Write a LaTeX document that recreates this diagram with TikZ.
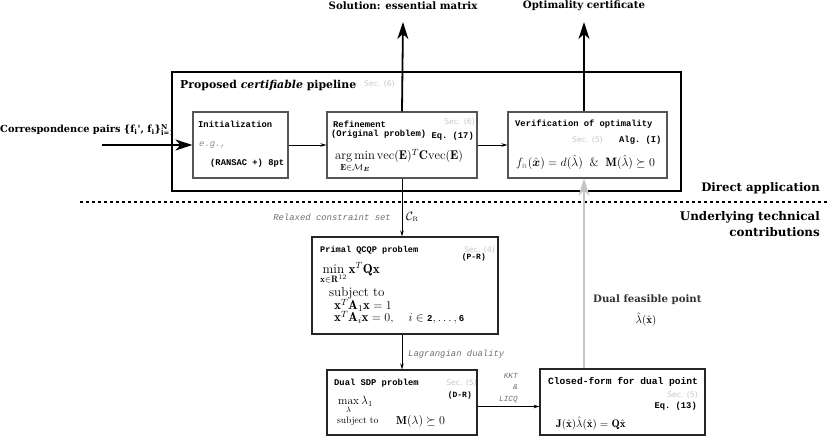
\documentclass[tikz,border=0pt]{standalone}
\usepackage{amsmath,amssymb}
\usepackage{fontspec}
\setmonofont{Liberation Mono}
\newfontfamily\hfont{DejaVu Serif}
\newfontfamily\secfont{DejaVu Sans}
\usetikzlibrary{arrows.meta,calc}
\definecolor{boxgray}{HTML}{555555}
\definecolor{seccol}{HTML}{C8C8C8}
\definecolor{lblgray}{HTML}{707070}
\definecolor{fbgray}{HTML}{C4C4C4}
\tikzset{
  box/.style={draw=boxgray, line width=1.2pt, fill=white, inner sep=0pt},
  outerbox/.style={draw=black, line width=1.1pt, inner sep=0pt},
  head/.style={font=\hfont\bfseries\fontsize{10.2}{12}\selectfont, inner sep=0pt},
  bighead/.style={font=\hfont\bfseries\fontsize{11.9}{16}\selectfont, inner sep=0pt},
  tt/.style={font=\ttfamily\bfseries\fontsize{8.8}{11}\selectfont, inner sep=0pt},
  ttit/.style={font=\ttfamily\itshape\fontsize{8.9}{11}\selectfont, text=lblgray, inner sep=0pt},
  sec/.style={font=\secfont\fontsize{7.7}{9}\selectfont, text=seccol, inner sep=0pt},
  mth/.style={font=\fontsize{11}{13}\selectfont, inner sep=0pt},
  bigarrow/.style={line width=1.8pt, -{Stealth[length=17pt,width=11pt,inset=5pt]}},
  thinarrow/.style={line width=0.6pt, -{Stealth[length=6pt,width=3.5pt]}},
  grayarrow/.style={draw=fbgray, line width=1.8pt, -{Stealth[length=17pt,width=11pt,inset=5pt]}},
}
\begin{document}
\begin{tikzpicture}[x=1pt,y=-1pt]
\useasboundingbox (0,0) rectangle (830,438);
% outer pipeline box
\node[outerbox, minimum width=509pt, minimum height=119pt] (pipe) at (426.5,131.5) {};
\node[bighead, anchor=west, font=\hfont\bfseries\fontsize{10.9}{13}\selectfont] (ptitle) at (180,85) {Proposed \textit{certifiable} pipeline};
\node[sec, anchor=west] (psec) at (364,84) {Sec. (6)};
% boxes
\node[box, minimum width=95pt, minimum height=66pt] (init) at (240.5,145) {};
\node[box, minimum width=150pt, minimum height=66pt] (ref) at (402,145) {};
\node[box, minimum width=159pt, minimum height=66pt] (verif) at (587.5,145) {};
\node[box, draw=black!85, minimum width=186pt, minimum height=97pt] (primal) at (405,285.5) {};
\node[box, draw=black!85, minimum width=150pt, minimum height=65pt] (dual) at (402,402.5) {};
\node[box, draw=black!85, minimum width=165pt, minimum height=66pt] (closed) at (622.5,402) {};
% coordinates for free ends
\coordinate (sol) at (403,22);
\coordinate (cert) at (584,22);
\coordinate (inp) at (102,145);
% top labels
\node[head] (soltxt) at (403,6) {Solution: essential matrix};
\node[head] (certtxt) at (584,6) {Optimality certificate};
% input
\node[head, anchor=west, font=\hfont\bfseries\fontsize{9.8}{12}\selectfont] (inptxt) at (0,130) {Correspondence pairs \{f$_{\text{i}}$', f$_{\text{i}}$\}$^{\text{N}}_{\text{i=1}}$};
% init text
\node[tt, anchor=west] (initt) at (198,124) {Initialization};
\node[ttit, text=black!45, anchor=west] (eg) at (199,145) {e.g.,};
\node[tt, anchor=west] (ransac) at (210,163) {(RANSAC +) 8pt};
% refinement text
\node[tt, anchor=west] (reft) at (333,124) {Refinement};
\node[sec, anchor=east] (refsec) at (475,122) {Sec. (6)};
\node[tt, anchor=west] (refo) at (331,134) {(Original problem)};
\node[tt, anchor=east] (refeq) at (474,136) {Eq. (17)};
\node[mth, anchor=west, font=\fontsize{12.6}{15}\selectfont] (refm) at (335,161) {$\displaystyle\mathop{\arg\min}_{\mathbf{E}\in\mathcal{M}_{\boldsymbol{E}}} \mathrm{vec}(\mathbf{E})^T\mathbf{C}\mathrm{vec}(\mathbf{E})$};
% verification text
\node[tt, anchor=west] (vert) at (515,124) {Verification of optimality};
\node[sec, anchor=west] (versec) at (572,140) {Sec. (5)};
\node[tt, anchor=west] (veralg) at (619,140) {Alg. (I)};
\node[mth, anchor=west, font=\fontsize{12.2}{14}\selectfont] (verm) at (516,162) {$f_{\textcolor{lblgray}{\scriptscriptstyle\mathrm{R}}}(\hat{\boldsymbol{x}}) = d(\hat{\lambda}) \;\;\&\;\; \mathbf{M}(\hat{\lambda}) \succeq 0$};
% below-line labels
\node[bighead, anchor=east, font=\hfont\bfseries\fontsize{11.7}{16}\selectfont] (direct) at (820,188) {Direct application};
\node[bighead, anchor=east, align=right] (under) at (820,224) {Underlying technical\\contributions};
\coordinate (dl) at (80,202);
\coordinate (dr) at (830,202);
\draw[line width=1.4pt, dash pattern=on 3pt off 3pt] (dl) -- (dr);
% primal text
\node[tt, anchor=west, font=\ttfamily\bfseries\fontsize{8.6}{11}\selectfont] (prt) at (320,250) {Primal QCQP problem};
\node[sec, anchor=east] (prsec) at (495,250) {Sec. (4)};
\node[tt, anchor=east, font=\ttfamily\bfseries\fontsize{8}{11}\selectfont] (prpr) at (486,257) {(P-R)};
\node[mth, anchor=west, font=\fontsize{13.2}{15}\selectfont] (prm) at (320,273) {$\displaystyle\min_{\mathbf{x}\in\mathbf{R}^{12}} \mathbf{x}^T\mathbf{Q}\mathbf{x}$};
\node[mth, anchor=west, font=\fontsize{13}{15}\selectfont] (prs) at (329,293) {subject to};
\node[mth, anchor=west, font=\fontsize{13}{15}\selectfont] (pr1) at (334,305.5) {$\mathbf{x}^T\mathbf{A}_1\mathbf{x} = 1$};
\node[mth, anchor=west, font=\fontsize{13}{15}\selectfont] (pr2) at (334,317.5) {$\mathbf{x}^T\mathbf{A}_i\mathbf{x} = 0, \quad i \in \text{\ttfamily\bfseries\fontsize{9}{11}\selectfont 2}, \ldots, \text{\ttfamily\bfseries\fontsize{9}{11}\selectfont 6}$};
% dual text
\node[tt, anchor=west] (dut) at (334,383) {Dual SDP problem};
\node[sec, anchor=east] (dusec) at (477,383) {Sec. (5)};
\node[tt, anchor=east, font=\ttfamily\bfseries\fontsize{8}{11}\selectfont] (dudr) at (472,395) {(D-R)};
\node[mth, anchor=west, font=\fontsize{11.5}{13}\selectfont] (dum) at (338,405) {$\displaystyle\max_{\lambda}\lambda_1$};
\node[mth, anchor=west, font=\fontsize{9.5}{12}\selectfont] (dus) at (337,421) {subject to};
\node[mth, anchor=west, font=\fontsize{11.5}{13}\selectfont] (dusm) at (396,421) {$\mathbf{M}(\lambda)\succeq 0$};
% closed text
\node[tt, anchor=west, font=\ttfamily\bfseries\fontsize{9.6}{11}\selectfont] (clt) at (548,382) {Closed-form for dual point};
\node[sec, anchor=east] (clsec) at (698,395) {Sec. (5)};
\node[tt, anchor=east] (cleq) at (697,406) {Eq. (13)};
\node[mth, anchor=west] (clm) at (556,424) {$\mathbf{J}(\hat{\mathbf{x}})\hat{\lambda}(\hat{\mathbf{x}}) = \mathbf{Q}\hat{\mathbf{x}}$};
% connector labels
\node[ttit, anchor=east] (relax) at (391,217) {Relaxed constraint set};
\node[mth, anchor=west, font=\fontsize{13}{15}\selectfont] (cr) at (406,217) {$\mathcal{C}_{\scriptscriptstyle\mathrm{R}}$};
\node[ttit, anchor=west] (lagr) at (408,354) {Lagrangian duality};
\node[ttit, anchor=east, align=right, font=\ttfamily\itshape\fontsize{7.8}{11.5}\selectfont] (kkt) at (518,388) {KKT\\\&\\LICQ};
\node[head, anchor=west, text=black!80] (dfp) at (593,300) {Dual feasible point};
\node[mth, anchor=center] (lamx) at (646,320) {$\hat{\lambda}(\hat{\mathbf{x}})$};
% connectors
\draw[bigarrow] (inp) -- (init.west);
\draw[thinarrow] (init.east) -- (ref.west);
\draw[thinarrow] (ref.east) -- (verif.west);
\draw[bigarrow] (ref.north) -- (sol);
\draw[bigarrow] (verif.north -| cert) -- (cert);
\draw[thinarrow] (ref.south) -- (ref.south |- primal.north);
\draw[thinarrow] (primal.south -| dual.north) -- (dual.north);
\draw[thinarrow] ([yshift=-4pt]dual.east) -- ([yshift=-4pt]dual.east -| closed.west);
\draw[grayarrow] (closed.north -| cert) -- (verif.south -| cert);
\end{tikzpicture}
\end{document}
